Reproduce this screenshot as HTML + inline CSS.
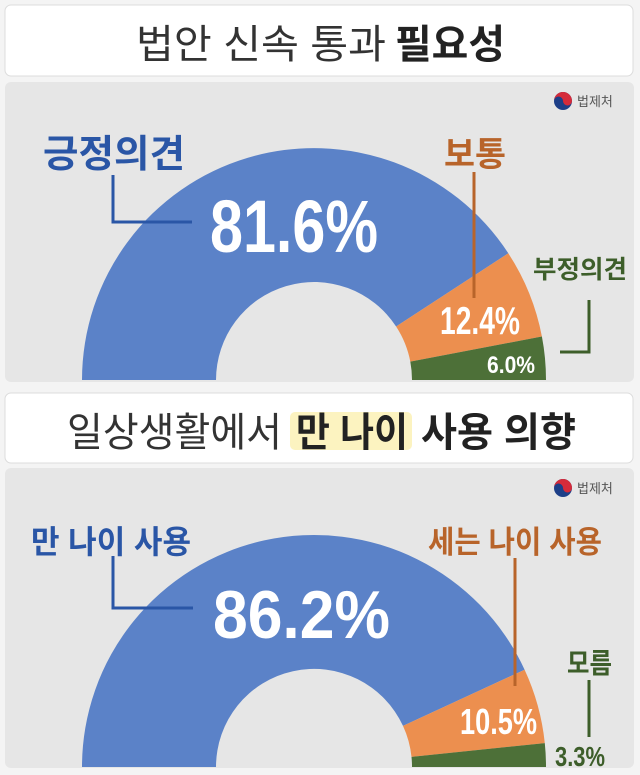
<!DOCTYPE html>
<html><head><meta charset="utf-8"><style>
html,body{margin:0;padding:0;background:#fff;width:640px;height:775px;overflow:hidden}
svg{display:block}
text{font-family:"Liberation Sans","Noto Sans CJK KR",sans-serif}
</style></head><body>
<svg width="640" height="775" viewBox="0 0 640 775">
<rect width="640" height="775" fill="#f4f4f4"/>
<!-- title 1 -->
<rect x="5" y="5" width="628" height="71" rx="6" fill="#fff" stroke="#dcdcdc"/>
<text x="136" y="58" font-size="40" fill="#333" textLength="250" lengthAdjust="spacingAndGlyphs">법안 신속 통과</text>
<text x="395" y="58" font-size="40" font-weight="bold" fill="#222" textLength="110" lengthAdjust="spacingAndGlyphs">필요성</text>
<!-- panel 1 -->
<rect x="5" y="82" width="629" height="300" rx="6" fill="#e6e6e6"/>
<circle cx="563" cy="101" r="9" fill="#1d3f88"/><path d="M554 101 A9 9 0 0 1 572 101 A4.5 4.5 0 0 1 563 101 A4.5 4.5 0 0 0 554 101Z" fill="#d52b3a"/>
<text x="577" y="106" font-size="13" fill="#555">법제처</text>
<path d="M82 380 A232 232 0 0 1 508.3 253.3 L396.1 326.5 A98 98 0 0 0 216 380Z" fill="#5b82c8"/>
<path d="M508.3 253.3 A232 232 0 0 1 541.9 336.5 L410.3 361.6 A98 98 0 0 0 396.1 326.5Z" fill="#ec8f4f"/>
<path d="M541.9 336.5 A232 232 0 0 1 546 380 L412 380 A98 98 0 0 0 410.3 361.6Z" fill="#4d7038"/>
<text x="43" y="167" font-size="38" font-weight="bold" fill="#2a56a6" textLength="142" lengthAdjust="spacingAndGlyphs">긍정의견</text>
<path d="M113 175 V222 H192" stroke="#2a56a6" stroke-width="3" fill="none"/>
<text x="210" y="252" font-size="74" font-weight="bold" fill="#fff" textLength="168" lengthAdjust="spacingAndGlyphs">81.6%</text>
<text x="444" y="166" font-size="34" font-weight="bold" fill="#b8642a" textLength="62" lengthAdjust="spacingAndGlyphs">보통</text>
<path d="M474 172 V298" stroke="#b8642a" stroke-width="3"/>
<text x="440" y="334" font-size="39" font-weight="bold" fill="#fff" textLength="80" lengthAdjust="spacingAndGlyphs">12.4%</text>
<text x="533" y="278" font-size="25" font-weight="bold" fill="#3d5e2a" textLength="94" lengthAdjust="spacingAndGlyphs">부정의견</text>
<path d="M589 300 V352 H560" stroke="#3d5e2a" stroke-width="3" fill="none"/>
<text x="487" y="373" font-size="24" font-weight="bold" fill="#fff" textLength="48" lengthAdjust="spacingAndGlyphs">6.0%</text>
<!-- title 2 -->
<rect x="5" y="393" width="628" height="70" rx="6" fill="#fff" stroke="#dcdcdc"/>
<rect x="290" y="412" width="122" height="38" rx="5" fill="#fcf3c0"/>
<text x="67" y="446" font-size="40" fill="#333" textLength="215" lengthAdjust="spacingAndGlyphs">일상생활에서</text>
<text x="296" y="446" font-size="40" font-weight="bold" fill="#222" textLength="112" lengthAdjust="spacingAndGlyphs">만 나이</text>
<text x="421" y="446" font-size="40" font-weight="bold" fill="#222" textLength="155" lengthAdjust="spacingAndGlyphs">사용 의향</text>
<!-- panel 2 -->
<rect x="5" y="468" width="629" height="300" rx="6" fill="#e6e6e6"/>
<circle cx="563" cy="488" r="9" fill="#1d3f88"/><path d="M554 488 A9 9 0 0 1 572 488 A4.5 4.5 0 0 1 563 488 A4.5 4.5 0 0 0 554 488Z" fill="#d52b3a"/>
<text x="577" y="493" font-size="13" fill="#555">법제처</text>
<path d="M82 767 A232 232 0 0 1 524.6 669.7 L403 725.9 A98 98 0 0 0 216 767Z" fill="#5b82c8"/>
<path d="M524.6 669.7 A232 232 0 0 1 544.8 743.1 L411.5 756.9 A98 98 0 0 0 403 725.9Z" fill="#ec8f4f"/>
<path d="M544.8 743.1 A232 232 0 0 1 546 767 L412 767 A98 98 0 0 0 411.5 756.9Z" fill="#4d7038"/>
<text x="31" y="553" font-size="32" font-weight="bold" fill="#2a56a6" textLength="160" lengthAdjust="spacingAndGlyphs">만 나이 사용</text>
<path d="M113 556 V608 H193" stroke="#2a56a6" stroke-width="3" fill="none"/>
<text x="213" y="638" font-size="68" font-weight="bold" fill="#fff" textLength="177" lengthAdjust="spacingAndGlyphs">86.2%</text>
<text x="428" y="553" font-size="31" font-weight="bold" fill="#b8642a" textLength="174" lengthAdjust="spacingAndGlyphs">세는 나이 사용</text>
<path d="M515 558 V686" stroke="#b8642a" stroke-width="3"/>
<text x="460" y="734" font-size="36" font-weight="bold" fill="#fff" textLength="77" lengthAdjust="spacingAndGlyphs">10.5%</text>
<text x="567" y="673" font-size="28" font-weight="bold" fill="#3d5e2a" textLength="45" lengthAdjust="spacingAndGlyphs">모름</text>
<path d="M589 680 V737" stroke="#3d5e2a" stroke-width="3"/>
<text x="555" y="766" font-size="28" font-weight="bold" fill="#3d5e2a" textLength="50" lengthAdjust="spacingAndGlyphs">3.3%</text>
</svg>
</body></html>
